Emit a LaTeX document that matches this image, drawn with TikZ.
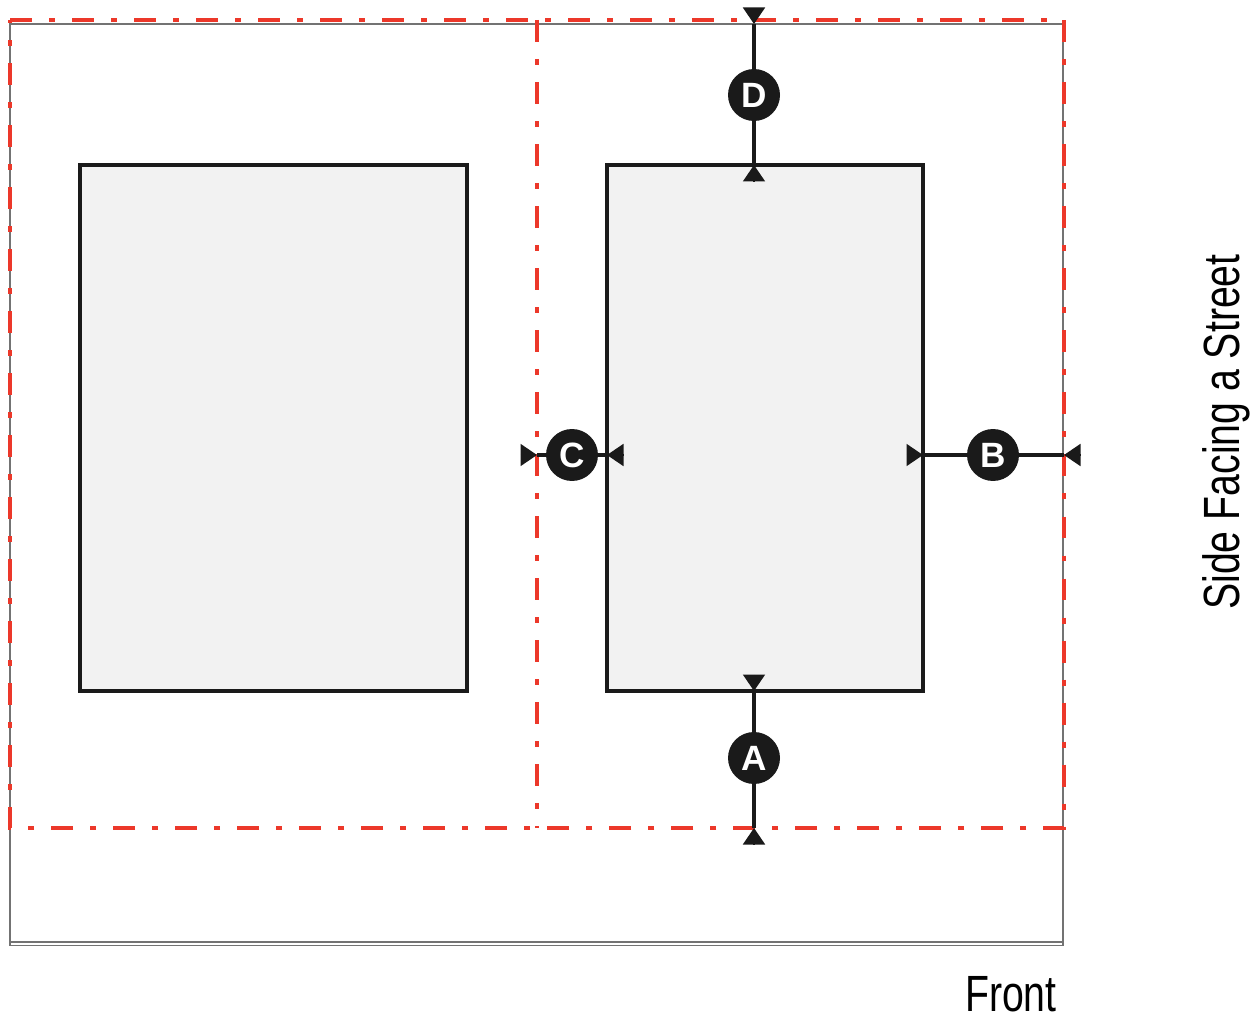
\documentclass[tikz,border=0pt]{standalone}
\usepackage{fontspec}
\setmainfont{Liberation Sans}[FakeStretch=0.77]
\newfontfamily\tagfont{Liberation Sans}
\usetikzlibrary{arrows.meta}
\definecolor{lotred}{RGB}{236,56,42}
\definecolor{housegray}{RGB}{242,242,242}
\definecolor{inkblack}{RGB}{26,26,26}

\begin{document}
\begin{tikzpicture}[x=0.02cm, y=-0.02cm,
            lot/.style={draw=black!55, line width=1pt},
            setback/.style={draw=lotred, line width=2.2pt, dash pattern=on 12.5pt off 9.7pt on 3.4pt off 9.7pt},
            house/.style={draw=inkblack, fill=housegray, line width=2.4pt},
            dimline/.style={draw=inkblack, line width=2pt},
            dimtip/.style={-{Triangle[length=0.33cm, width=0.44cm]}, draw=inkblack, fill=inkblack, line width=1pt},
            tag/.style={circle, fill=inkblack, text=white, inner sep=0pt, minimum size=1.04cm, font=\tagfont\bfseries\fontsize{20}{20}\selectfont}]
            \useasboundingbox (0,0) rectangle (1258,1020);
            % lot
            \draw[lot] (10,942) -- (10,24) -- (1063,24) -- (1063,945.5) -- (10,945.5) -- cycle;
            \draw[lot] (10,942) -- (1063,942);
            % setbacks
            \draw[setback] (10,20) -- (1064,20) -- (1064,828) -- (10,828) -- cycle;
            \draw[setback] (537,20) -- (537,828);
            % houses
            \draw[house] (80,165) rectangle (467,691);
            \draw[house] (607,165) rectangle (923,691);
            % ends of the dimensions
            \coordinate (d1) at (754,24);
            \coordinate (d2) at (754,165);
            \coordinate (a1) at (754,691);
            \coordinate (a2) at (754,828);
            \coordinate (c1) at (537,455);
            \coordinate (c2) at (607,455);
            \coordinate (b1) at (923,455);
            \coordinate (b2) at (1064,455);
            \node[tag] (D) at (754,95) {D};
            \node[tag] (A) at (754,758) {A};
            \node[tag] (C) at (572,455) {C};
            \node[tag] (B) at (993,455) {B};
            \draw[dimline] (d1) -- (D) (D) -- (d2);
            \draw[dimline] (a1) -- (A) (A) -- (a2);
            \draw[dimline] (c1) -- (C) (C) -- (c2);
            \draw[dimline] (b1) -- (B) (B) -- (b2);
            \draw[dimtip] (754,8) -- (d1);
            \draw[dimtip] (754,181) -- (d2);
            \draw[dimtip] (754,675) -- (a1);
            \draw[dimtip] (754,844) -- (a2);
            \draw[dimtip] (521,455) -- (c1);
            \draw[dimtip] (623,455) -- (c2);
            \draw[dimtip] (907,455) -- (b1);
            \draw[dimtip] (1080,455) -- (b2);
            % labels
            \node[anchor=base east, inner sep=0pt, font=\fontsize{29}{29}\selectfont] (front) at (1057,1011) {Front};
            \node[rotate=90, inner sep=0pt, font=\fontsize{29}{29}\selectfont] (street) at (1226,432) {Side Facing a Street};
\end{tikzpicture}
\end{document}
